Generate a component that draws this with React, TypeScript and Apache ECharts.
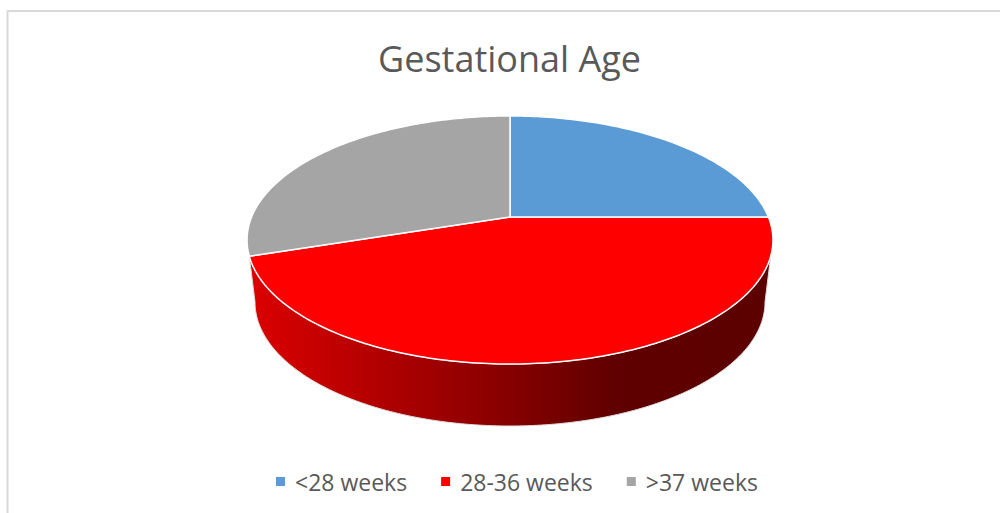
import React, { useEffect, useRef } from "react";
import * as echarts from "echarts";

const categories = ["<28 weeks", "28-36 weeks", ">37 weeks"];
const values = [25, 45, 30];
const colors = ["#5b9bd5", "#ff0000", "#a5a5a5"];
const total = values.reduce((a, b) => a + b, 0);

const CX = 510, APEX_Y = 217, R = 258.4, PC = -0.1855, PA = 79.5;
const BOT = { cy: 302, rx: 255, ry: 124 };
const FRONT = [108, 252];

function rim(deg: number): number[] {
  const a = (deg * Math.PI) / 180;
  const u = Math.sin(a), v = -Math.cos(a);
  const d = 1 + PC * v;
  return [CX + (R * u) / d, (PA * v + APEX_Y) / d];
}
function bottom(deg: number): number[] {
  const a = (deg * Math.PI) / 180;
  return [CX + BOT.rx * Math.sin(a), BOT.cy - BOT.ry * Math.cos(a)];
}
function arc(fn: (d: number) => number[], from: number, to: number): number[][] {
  const n = Math.max(2, Math.ceil(Math.abs(to - from)));
  const pts: number[][] = [];
  for (let i = 0; i <= n; i++) pts.push(fn(from + ((to - from) * i) / n));
  return pts;
}

function makeSeries(idx: number) {
  const before = values.slice(0, idx).reduce((a, b) => a + b, 0);
  const start = (before / total) * 360;
  const end = ((before + values[idx]) / total) * 360;
  return {
    type: "custom",
    name: categories[idx],
    coordinateSystem: "none",
    itemStyle: { color: colors[idx] },
    data: [values[idx]],
    z: 2 + (idx === 1 ? 0 : 1),
    renderItem: () => {
      const children: any[] = [];
      const s = Math.max(start, FRONT[0]);
      const e = Math.min(end, FRONT[1]);
      if (e - s > 0.5) {
        const pts = [
          ...arc(rim, s, e),
          ...arc(bottom, Math.min(e + 18, 270), Math.max(s - 18, 90)),
        ];
        children.push({
          type: "polygon",
          shape: { points: pts },
          style: {
            fill: new echarts.graphic.LinearGradient(0, 0, 1, 0, [
              { offset: 0, color: "#dc0000" },
              { offset: 0.5, color: "#860000" },
              { offset: 0.7, color: "#600000" },
              { offset: 1, color: "#5c0000" },
            ]),
            stroke: "#dcdcdc",
            lineWidth: 1,
          },
        });
      }
      children.push({
        type: "polygon",
        shape: { points: [[CX, APEX_Y], ...arc(rim, start, end)] },
        style: { fill: colors[idx], stroke: "#ffffff", lineWidth: 1.5 },
      });
      return { type: "group", children };
    },
  };
}

export default function App() {
  const ref = useRef<HTMLDivElement>(null);
  useEffect(() => {
    const chart = echarts.init(ref.current!, null, { renderer: "svg" });
    chart.setOption({
      animation: false,
      backgroundColor: "#ffffff",
      title: {
        text: "Gestational Age",
        left: 504.5,
        top: 35,
        textAlign: "center",
        textStyle: { fontFamily: "Open Sans", fontSize: 36, fontWeight: "normal", color: "#595959" },
      },
      legend: {
        data: categories,
        left: 271,
        top: 465,
        icon: "rect",
        itemWidth: 9,
        itemHeight: 9,
        itemGap: 34,
        textStyle: { fontFamily: "Open Sans", fontSize: 23, color: "#595959", padding: [0, 0, 0, 5] },
      },
      graphic: [
        { type: "line", shape: { x1: 7.5, y1: 11, x2: 1000, y2: 11 }, style: { stroke: "#d9d9d9", lineWidth: 2 } },
        { type: "line", shape: { x1: 7.5, y1: 10, x2: 7.5, y2: 513 }, style: { stroke: "#d9d9d9", lineWidth: 2 } },
      ],
      series: categories.map((_, i) => makeSeries(i)),
    });
    return () => chart.dispose();
  }, []);
  return <div ref={ref} style={{ position: "fixed", left: 0, top: 0, width: 1000, height: 513 }} />;
}
